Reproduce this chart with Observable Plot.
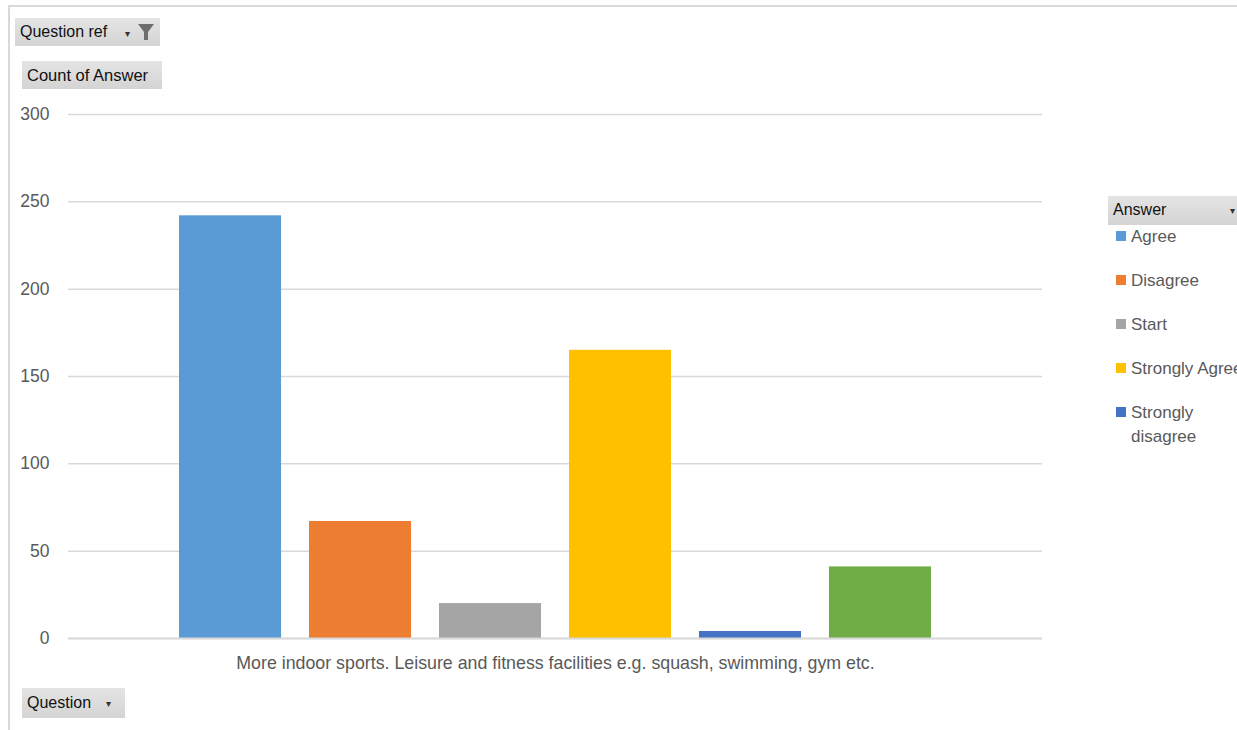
<!DOCTYPE html>
<html>
<head>
<meta charset="utf-8">
<script src="https://cdn.jsdelivr.net/npm/d3@7"></script>
<script src="https://cdn.jsdelivr.net/npm/@observablehq/plot@0.6"></script>
<style>
  html, body { margin: 0; padding: 0; background: #fff; }
  #wrap { position: relative; width: 1237px; height: 730px; overflow: hidden; font-family: "Liberation Sans", Arial, sans-serif; }
  #frame { position: absolute; left: 8px; top: 5px; width: 1240px; height: 740px; border-top: 2px solid #d9d9d9; border-left: 2px solid #d9d9d9; box-sizing: border-box; }
  #chart { position: absolute; left: 0; top: 0; }
  .btn { position: absolute; background: linear-gradient(#e4e4e4, #d4d4d4); color: #111; font-size: 16px; line-height: 28px; padding-left: 5px; box-sizing: border-box; white-space: nowrap; }
  .arr { position: absolute; font-size: 10px; color: #333; }
  #legend { position: absolute; left: 1116px; top: 225px; font-size: 17px; color: #595959; }
  .li { position: absolute; left: 0; white-space: nowrap; }
  .sw { position: absolute; left: 0; top: 6px; width: 10px; height: 10px; }
  .lt { position: absolute; left: 15px; top: 0; line-height: 24px; }
</style>
</head>
<body>
<div id="wrap">
  <div id="frame"></div>
  <div id="chart"></div>
  <div class="btn" style="left:15px;top:18px;width:145px;height:28px;">Question ref
    <span class="arr" style="left:110px;top:2px;">&#9662;</span>
    <svg style="position:absolute;left:122px;top:5px;" width="18" height="18" viewBox="0 0 18 18"><path d="M1 1 H17 L11 9 V17 H7 V9 Z" fill="#6e6e6e"/></svg>
  </div>
  <div class="btn" style="left:22px;top:61px;width:140px;height:28px;font-size:16.5px;">Count of Answer</div>
  <div class="btn" style="left:22px;top:688px;width:103px;height:30px;line-height:30px;">Question
    <span class="arr" style="left:84px;top:1px;">&#9662;</span>
  </div>
  <div class="btn" style="left:1108px;top:196px;width:140px;height:29px;">Answer
    <span class="arr" style="left:122px;top:1px;">&#9662;</span>
  </div>
  <div id="legend"></div>
</div>
<script>
const answers = ["Agree", "Disagree", "Start", "Strongly Agree", "Strongly disagree", "Neutral"];
const counts = [242, 67, 20, 165, 4, 41];
const colors = ["#5B9BD5", "#ED7D31", "#A5A5A5", "#FFC000", "#4472C4", "#70AD47"];
const legendLabels = ["Agree", "Disagree", "Start", "Strongly Agree", "Strongly\ndisagree"];
const question = "More indoor sports. Leisure and fitness facilities e.g. squash, swimming, gym etc.";
const yTicks = [0, 50, 100, 150, 200, 250, 300];

const data = answers.map((a, i) => ({answer: a, count: counts[i]}));

const chart = Plot.plot({
  width: 1237,
  height: 730,
  marginLeft: 68,
  marginRight: 195,
  marginTop: 114,
  marginBottom: 92,
  style: {fontFamily: "'Liberation Sans', Arial, sans-serif", fontSize: "17px", color: "#595959", background: "transparent", overflow: "visible"},
  x: {domain: answers, paddingInner: 0.215, paddingOuter: 0.854, round: false, axis: null},
  y: {domain: [0, 300], axis: null},
  color: {domain: answers, range: colors},
  marks: [
    Plot.gridY(yTicks, {stroke: "#d9d9d9", strokeOpacity: 1, strokeWidth: 1.5}),
    Plot.axisY(yTicks, {tickSize: 0, tickPadding: 19, label: null, fill: "#595959", fontSize: 17.5}),
    Plot.barY(data, {x: "answer", y: "count", fill: "answer"}),
    Plot.ruleY([0], {stroke: "#d9d9d9", strokeWidth: 2}),
    Plot.text([question], {frameAnchor: "bottom", dy: 30, fill: "#595959", fontSize: 17.8})
  ]
});
document.getElementById("chart").appendChild(chart);

const legend = document.getElementById("legend");
const rowTops = [0, 44, 88, 132, 176];
legendLabels.forEach((lab, i) => {
  const li = document.createElement("div");
  li.className = "li";
  li.style.top = rowTops[i] + "px";
  const sw = document.createElement("div");
  sw.className = "sw";
  sw.style.background = colors[i];
  const lt = document.createElement("div");
  lt.className = "lt";
  lt.innerHTML = lab.replace("\n", "<br>");
  li.appendChild(sw);
  li.appendChild(lt);
  legend.appendChild(li);
});
</script>
</body>
</html>
